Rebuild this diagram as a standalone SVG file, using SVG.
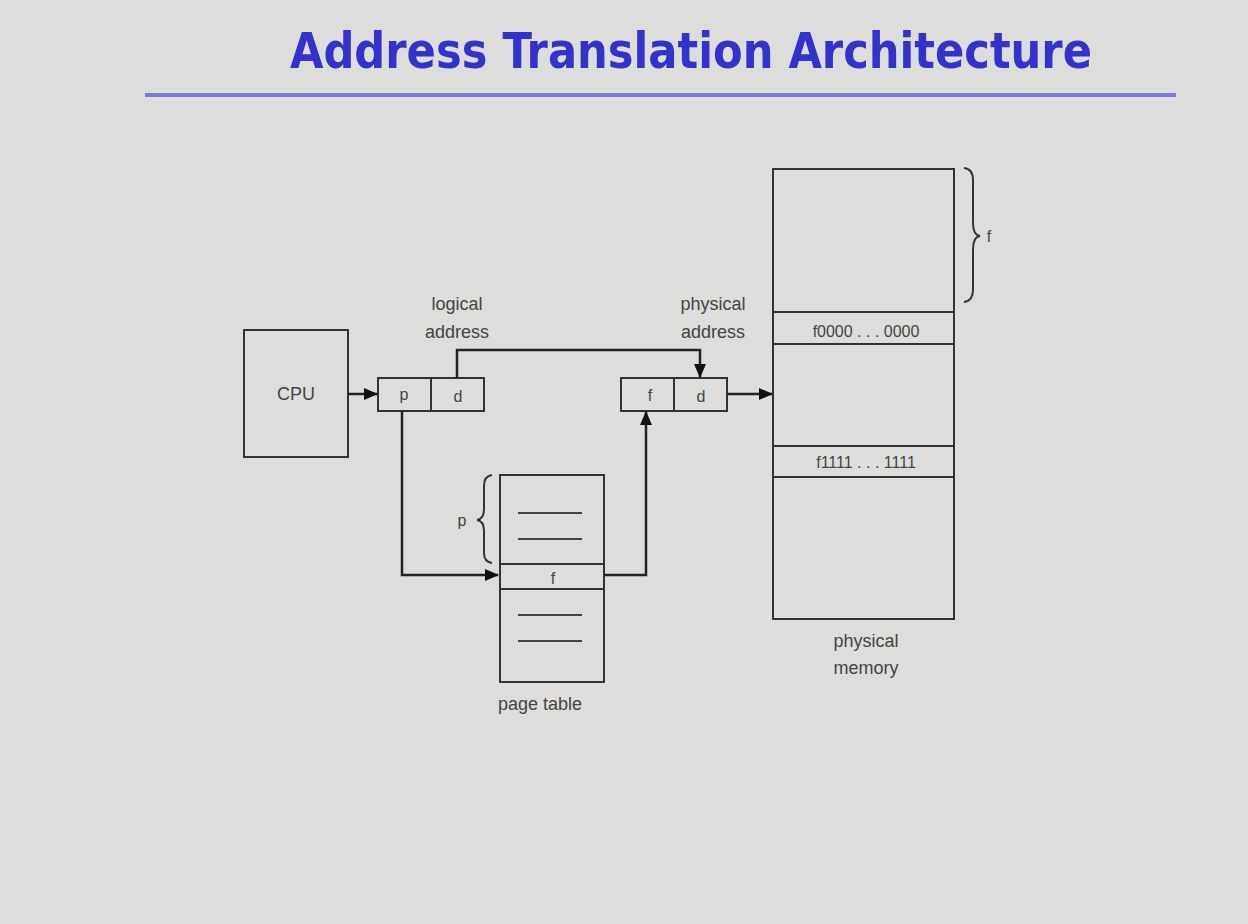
<svg xmlns="http://www.w3.org/2000/svg" width="1248" height="924" viewBox="0 0 1248 924">
<style>
.bx{fill:none;stroke:#333;stroke-width:2}
.ln{fill:none;stroke:#222;stroke-width:2.5}
.t{font-family:"Liberation Sans",Arial,sans-serif;font-size:18px;fill:#444;text-anchor:middle}
.s{font-family:"Liberation Sans",Arial,sans-serif;font-size:16px;fill:#444;text-anchor:middle}
.in{stroke:#444;stroke-width:2}
</style>
<defs>
<marker id="ah" markerWidth="14" markerHeight="12" refX="13" refY="6" orient="auto" markerUnits="userSpaceOnUse">
<path d="M0,0 L14,6 L0,12 z" fill="#111"/>
</marker>
</defs>
<rect width="1248" height="924" fill="#dddddc"/>
<g id="title">
<text x="691" y="68" font-family="DejaVu Sans Condensed, DejaVu Sans, sans-serif" font-weight="bold" font-size="50" fill="#3333cc" text-anchor="middle" textLength="802" lengthAdjust="spacingAndGlyphs">Address Translation Architecture</text>
<rect x="145" y="93" width="1031" height="4" fill="#7b7bdc"/>
</g>
<g id="cpu">
<rect class="bx" x="244" y="330" width="104" height="127"/>
<text class="t" x="296" y="400">CPU</text>
</g>
<g id="logical-address">
<rect class="bx" x="378" y="378" width="106" height="33"/>
<line class="bx" x1="431" y1="378" x2="431" y2="411"/>
<text class="s" x="404" y="400">p</text>
<text class="s" x="458" y="402">d</text>
<text class="t" x="457" y="310">logical</text>
<text class="t" x="457" y="338">address</text>
</g>
<g id="physical-address">
<rect class="bx" x="621" y="378" width="106" height="33"/>
<line class="bx" x1="674" y1="378" x2="674" y2="411"/>
<text class="s" x="650" y="401">f</text>
<text class="s" x="701" y="402">d</text>
<text class="t" x="713" y="310">physical</text>
<text class="t" x="713" y="338">address</text>
</g>
<g id="physical-memory">
<rect class="bx" x="773" y="169" width="181" height="450"/>
<line class="bx" x1="773" y1="312" x2="954" y2="312"/>
<line class="bx" x1="773" y1="344" x2="954" y2="344"/>
<line class="bx" x1="773" y1="446" x2="954" y2="446"/>
<line class="bx" x1="773" y1="477" x2="954" y2="477"/>
<text class="s" x="866" y="337">f0000 . . . 0000</text>
<text class="s" x="866" y="468">f1111 . . . 1111</text>
<path class="bx" d="M964,168 Q973,169 973,180 L973,223 Q973,235 980,236 Q973,237 973,249 L973,290 Q973,301 964,302"/>
<text class="s" x="989" y="242">f</text>
<text class="t" x="866" y="647">physical</text>
<text class="t" x="866" y="674">memory</text>
</g>
<g id="page-table">
<rect class="bx" x="500" y="475" width="104" height="207"/>
<line class="bx" x1="500" y1="564" x2="604" y2="564"/>
<line class="bx" x1="500" y1="589" x2="604" y2="589"/>
<line class="in" x1="518" y1="513" x2="582" y2="513"/>
<line class="in" x1="518" y1="539" x2="582" y2="539"/>
<line class="in" x1="518" y1="615" x2="582" y2="615"/>
<line class="in" x1="518" y1="641" x2="582" y2="641"/>
<text class="s" x="553" y="584">f</text>
<path class="bx" d="M492,475 Q484,476 484,486 L484,509 Q484,519 477,520 Q484,521 484,531 L484,553 Q484,562 492,563"/>
<text class="s" x="462" y="526">p</text>
<text class="t" x="540" y="710">page table</text>
</g>
<g id="connectors">
<line class="ln" x1="348" y1="394" x2="377" y2="394" marker-end="url(#ah)"/>
<polyline class="ln" points="457,378 457,350 700,350 700,377" marker-end="url(#ah)"/>
<line class="ln" x1="727" y1="394" x2="772" y2="394" marker-end="url(#ah)"/>
<polyline class="ln" points="402,411 402,575 498,575" marker-end="url(#ah)"/>
<polyline class="ln" points="604,575 646,575 646,412" marker-end="url(#ah)"/>
</g>
</svg>
